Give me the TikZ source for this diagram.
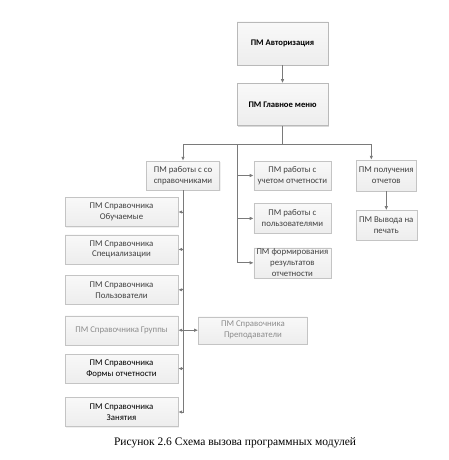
\documentclass[tikz,border=0pt]{standalone}
\usepackage{fontspec}
\setmainfont{Carlito}
\newfontfamily\capfont{Liberation Serif}
\usepackage{xcolor}
\usepackage{tikz}
\usetikzlibrary{positioning,arrows.meta,shadows}

\definecolor{boxline}{HTML}{C4C4C4}
\definecolor{linegray}{HTML}{7A7A7A}

\begin{document}
\begin{tikzpicture}[x=1pt,y=-1pt,
 box/.style={draw=boxline,top color=gray!5,bottom color=gray!14,align=center,
  inner sep=1pt,font=\fontsize{8.8}{10.8}\selectfont,text=black!75,
  drop shadow={opacity=0.12,shadow xshift=1pt,shadow yshift=-1pt}},
 mainbox/.style={box,draw=gray!55,minimum width=91pt,minimum height=43pt,
  font=\fontsize{8.6}{10.8}\selectfont\bfseries,text=black,
  drop shadow={opacity=0.3,shadow xshift=1.2pt,shadow yshift=-1.2pt}},
 midbox/.style={box,minimum width=77pt,minimum height=30pt},
 refbox/.style={box,minimum width=113pt,minimum height=29pt},
 arr/.style={-{Latex[length=4pt,width=3.5pt]},draw=linegray,line width=0.8pt},
 dblarr/.style={{Latex[length=4pt,width=3.5pt]}-{Latex[length=4pt,width=3.5pt]},draw=linegray,line width=0.8pt}]
\useasboundingbox (0,0) rectangle (448,460);
% top of the scheme
\node[mainbox] (auth) at (282.5,43.5) {ПМ Авторизация};
\node[mainbox,below=18pt of auth,minimum height=42pt] (menu) {ПМ Главное меню};
% second level
\node[midbox,minimum width=73pt,minimum height=29pt] (spr) at (183,175.5) {ПМ работы с со\\справочниками};
\node[midbox,right=34pt of spr,minimum height=29pt] (uchet) {ПМ работы с\\учетом отчетности};
\node[midbox,below=13pt of uchet] (users) {ПМ работы с\\пользователями};
\node[midbox,below=14pt of users] (results) {ПМ формирования\\результатов\\отчетности};
\node[midbox,right=25pt of uchet,minimum width=60pt,minimum height=31pt] (reports) {ПМ получения\\отчетов};
\node[midbox,below=19pt of reports,minimum width=61pt] (print) {ПМ Вывода на\\печать};
% reference modules
\node[refbox] (students) at (121.5,212) {ПМ Справочника\\Обучаемые};
\node[refbox,below=8pt of students] (special) {ПМ Справочника\\Специализации};
\node[refbox,below=11pt of special] (refusers) {ПМ Справочника\\Пользователи};
\node[refbox,below=11pt of refusers,text=gray!90] (groups) {ПМ Справочника Группы};
\node[refbox,right=20pt of groups,minimum width=109pt,minimum height=27pt,text=gray!90] (teachers) {ПМ Справочника\\Преподаватели};
\node[refbox,below=9pt of groups,text=black] (forms) {ПМ Справочника\\Формы отчетности};
\node[refbox,below=14pt of forms,text=black] (lessons) {ПМ Справочника\\Занятия};
% caption
\node[font=\capfont\fontsize{11.5}{13}\selectfont] (caption) at (235,443) {Рисунок 2.6 Схема вызова программных модулей};
% connectors
\coordinate (bus) at (0,144);
\coordinate (trunk) at (237,144);
\draw[arr] (auth) -- (menu);
\draw[arr] (menu.south) -- (menu.south|-bus) -| (spr.north);
\draw[arr] (menu.south|-bus) -| ([xshift=-15pt]reports.north);
\draw[arr] (trunk) |- (results.west);
\draw[arr] (trunk|-uchet) -- (uchet.west);
\draw[arr] (trunk|-users) -- (users.west);
\draw[arr] (reports.south-|print) -- (print.north);
\draw[arr] (spr.south) |- (lessons.east);
\draw[arr] (spr.south|-students) -- (students.east);
\draw[arr] (spr.south|-special) -- (special.east);
\draw[arr] (spr.south|-refusers) -- (refusers.east);
\draw[arr] (spr.south|-forms) -- (forms.east);
\draw[dblarr] (groups.east) -- (teachers.west);
\end{tikzpicture}
\end{document}
